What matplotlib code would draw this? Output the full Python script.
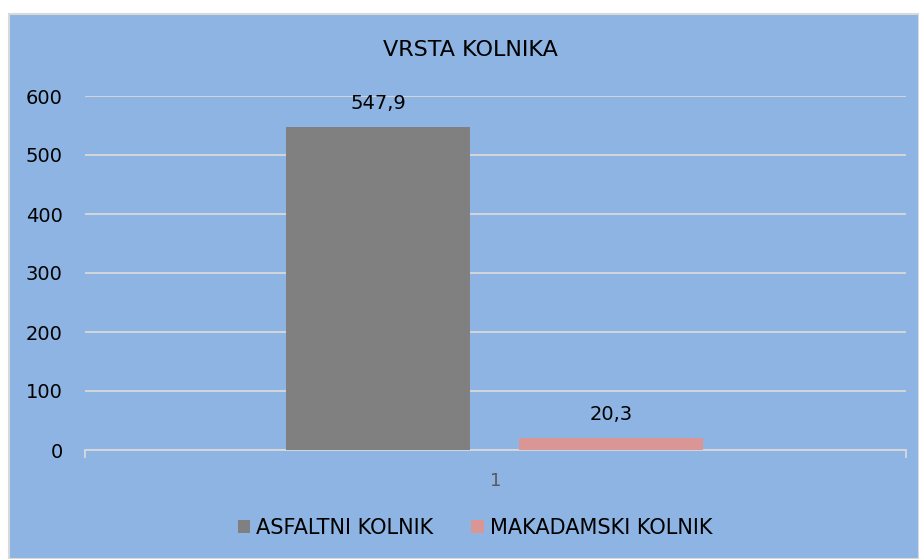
import matplotlib.pyplot as plt
from matplotlib.patches import Rectangle

TITLE = 'VRSTA KOLNIKA'
SERIES = ['ASFALTNI KOLNIK', 'MAKADAMSKI KOLNIK']
VALUES = [547.9, 20.3]
LABELS = ['547,9', '20,3']
COLORS = ['#808080', '#DA9694']
CATEGORY = '1'

BG = '#8DB4E2'
W, H = 919, 559

plt.rcParams['font.family'] = ['DejaVu Sans']

fig = plt.figure(figsize=(W / 100, H / 100), dpi=100)
fig.patch.set_facecolor('white')
fig.patches.append(Rectangle((9 / W, 0), 1 - 9 / W, 1 - 14 / H, transform=fig.transFigure,
                             facecolor=BG, edgecolor='#D9D9D9', linewidth=1.5, zorder=-1))

ax = fig.add_axes([85 / W, 1 - 450 / H, (906 - 85) / W, (450 - 96) / H])
ax.set_facecolor('none')
ax.set_zorder(2)

width = 0.224
offsets = [-0.143, 0.141]
for name, val, lab, col, off in zip(SERIES, VALUES, LABELS, COLORS, offsets):
    ax.bar(off, val, width=width, color=col, label=name, zorder=3)
    ax.annotate(lab, (off, val), xytext=(0, 17), textcoords='offset points',
                ha='center', va='center', fontsize=14, color='black')

ax.set_xlim(-0.5, 0.5)
ax.set_ylim(0, 600)
ax.set_yticks(range(0, 601, 100))
ax.yaxis.grid(True, color='#D9D9D9', linewidth=1.3, zorder=1)
ax.set_axisbelow(True)
ax.tick_params(axis='y', length=0, pad=16, labelsize=14, labelcolor='black')

ax.set_xticks([0])
ax.set_xticklabels([CATEGORY])
ax.tick_params(axis='x', which='major', length=0, pad=16, labelsize=13, labelcolor='#595959')
ax.set_xticks([-0.5, 0.5], minor=True)
ax.tick_params(axis='x', which='minor', length=6, width=1.3, color='#D9D9D9', direction='out')

for s in ['left', 'right', 'top']:
    ax.spines[s].set_visible(False)
ax.spines['bottom'].set_color('#D9D9D9')
ax.spines['bottom'].set_linewidth(1.3)

fig.text(470 / W, 1 - 50 / H, TITLE, ha='center', va='center', fontsize=16, color='black')

leg = fig.legend(loc='center', bbox_to_anchor=(475 / W, 1 - 528 / H), ncol=2, frameon=False,
                 fontsize=15, handlelength=0.6, handleheight=0.6, handletextpad=0.3,
                 columnspacing=1.8)

fig.savefig('out.png', dpi=100)
